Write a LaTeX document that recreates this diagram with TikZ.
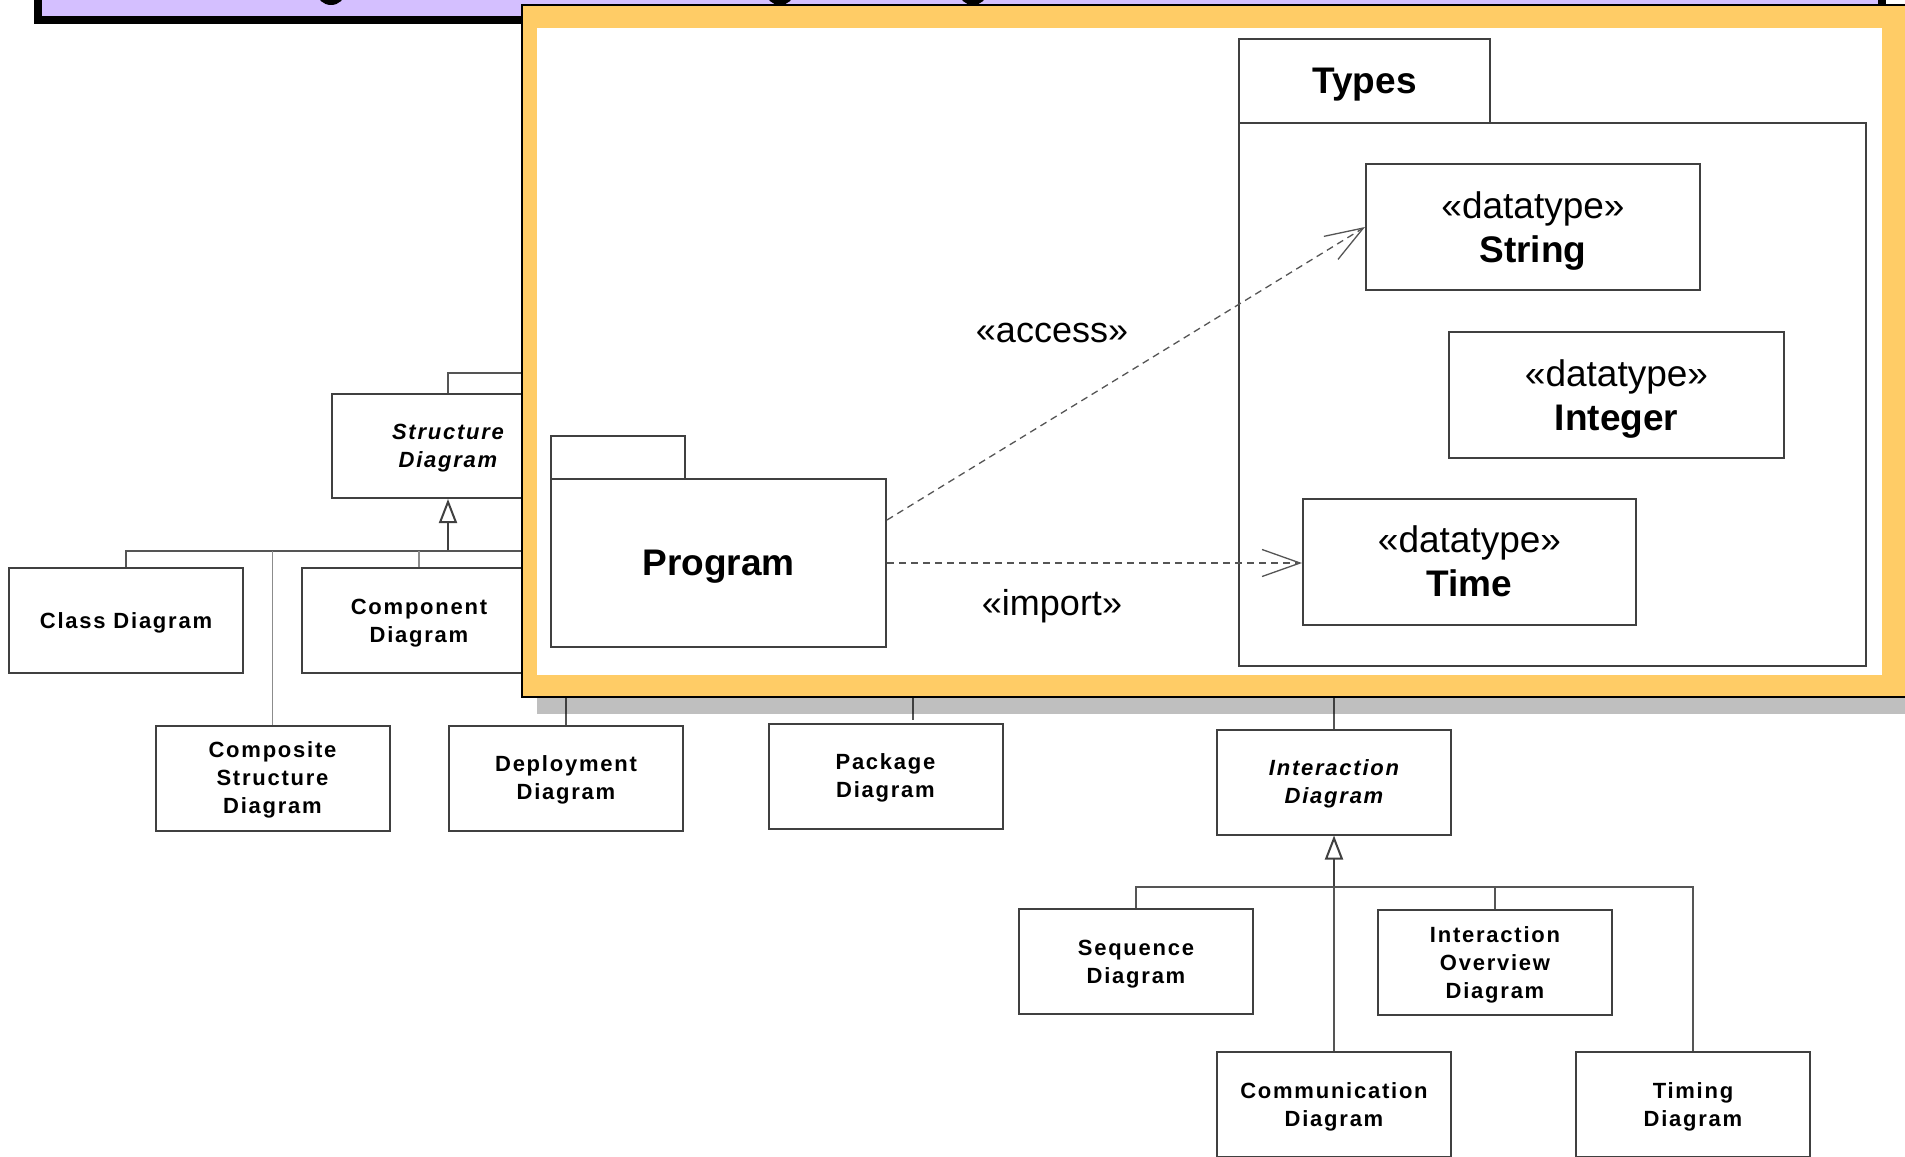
\documentclass[tikz,border=0pt]{standalone}
\usepackage{fontspec}
\setmainfont{Liberation Sans}
\newfontfamily\treefont{Liberation Sans}[LetterSpace=8]
\usetikzlibrary{arrows.meta,calc}
\definecolor{titlefill}{HTML}{D4BFFF}
\definecolor{popfill}{HTML}{FFCC66}
\definecolor{boxline}{HTML}{404040}
\definecolor{linkline}{HTML}{555555}
\definecolor{lightlink}{HTML}{8C8C8C}

\begin{document}
\begin{tikzpicture}[x=1pt,y=-1pt,
  treebox/.style={draw=boxline,line width=2pt,fill=white,minimum width=234pt,
    minimum height=105pt,inner sep=0pt,align=center,text depth=0pt,
    font=\treefont\bfseries\fontsize{22}{28}\selectfont},
  abstractbox/.style={treebox,font=\treefont\bfseries\itshape\fontsize{22}{28}\selectfont},
  link/.style={draw=linkline,line width=1.5pt},
  faint/.style={draw=lightlink,line width=1.5pt},
  gen/.style={draw=boxline,line width=2pt,-{Triangle[length=24pt,width=18pt,fill=white]}},
  pkgbox/.style={draw=boxline,line width=2pt,fill=white,inner sep=0pt},
  dtype/.style={pkgbox,align=center,text depth=0pt,font=\fontsize{37}{44}\selectfont},
  pkgname/.style={text depth=0pt,font=\bfseries\fontsize{37}{44}\selectfont},
  dep/.style={draw=linkline,line width=1.3pt,dash pattern=on 7pt off 5pt,
    -{Straight Barb[length=38pt,width=27pt]}},
  stereo/.style={font=\fontsize{36}{44}\selectfont}
]
\useasboundingbox (0,0) rectangle (1905,1156);

% title bar of the slide
\fill[black] (34,-30) rectangle (1886,24);
\fill[titlefill] (42,-30) rectangle (1878,16);
\fill[black] (331,-8) ellipse [x radius=14pt, y radius=13pt];
\fill[black] (780,-8) ellipse [x radius=14pt, y radius=13pt];
\fill[black] (973,-8) ellipse [x radius=14pt, y radius=13pt];

% structure branch of the diagram hierarchy
\node[abstractbox,minimum width=232pt,minimum height=104pt] (structure) at (448,446) {Structure\\Diagram};
\node[treebox] (classd) at (126,620.5) {Class Diagram};
\node[treebox] (component) at (419,620.5) {Component\\Diagram};
\node[treebox] (composite) at (272.5,778) {Composite\\Structure\\Diagram};
\node[treebox] (deployment) at (566,778) {Deployment\\Diagram};
\node[treebox] (packaged) at (885.5,776) {Package\\Diagram};

\coordinate (sj) at (448,551);
\coordinate (sright) at (640,551);
\coordinate (stop) at (640,373);
\coordinate (dtop) at (566,690);
\coordinate (ptop) at (913,690);

\draw[link] (structure.north) |- (stop);
\draw[gen] (sj) -- (structure.south);
\draw[link] (classd.north) -- (classd.north |- sj) -- (sright);
\draw[faint] (component.north) -- (component.north |- sj);
\draw[faint] (composite.north) -- (composite.north |- sj);
\draw[link] (dtop) -- (deployment.north);
\draw[link] (ptop) -- ([yshift=3pt]ptop |- packaged.north);

% behaviour branch: interactions
\node[abstractbox] (interaction) at (1334,782) {Interaction\\Diagram};
\node[treebox] (sequence) at (1136,961.5) {Sequence\\Diagram};
\node[treebox] (overview) at (1495,962.5) {Interaction\\Overview\\Diagram};
\node[treebox] (communication) at (1334,1104.5) {Communication\\Diagram};
\node[treebox] (timing) at (1693,1104.5) {Timing\\Diagram};

\coordinate (ij) at (1334,887);
\coordinate (itop) at (1334,690);

\draw[link] (itop) -- (interaction.north);
\draw[gen] (ij) -- (interaction.south);
\draw[link] (sequence.north) -- (sequence.north |- ij) -- (timing.north |- ij) -- (timing.north);
\draw[link] (overview.north) -- (overview.north |- ij);
\draw[link] (ij) -- (communication.north);

% drop shadow and frame of the close-up panel
\fill[black,opacity=0.25] (537,20) rectangle (1930,714);
\fill[black] (521,4) rectangle (1930,698);
\fill[popfill] (523,6) rectangle (1930,696);
\fill[white] (537,28) rectangle (1882,675);

% package Types with its data types
\node[pkgbox,pkgname,minimum width=251pt,minimum height=84pt] (typestab) at (1364.5,81) {Types};
\node[pkgbox,minimum width=627pt,minimum height=543pt] (typesbody) at (1552.5,394.5) {};
\node[dtype,minimum width=334pt,minimum height=126pt] (stringt) at (1533,227) {«datatype»\\\textbf{String}};
\node[dtype,minimum width=335pt,minimum height=126pt] (integert) at (1616.5,395) {«datatype»\\\textbf{Integer}};
\node[dtype,minimum width=333pt,minimum height=126pt] (timet) at (1469.5,561.5) {«datatype»\\\textbf{Time}};

% package Program
\node[pkgbox,minimum width=134pt,minimum height=43pt] (progtab) at (618,457.5) {};
\node[pkgbox,pkgname,minimum width=335pt,minimum height=168pt] (progbody) at (718.5,563) {Program};

% dependencies
\draw[dep] ([yshift=43pt]progbody.east) -- (stringt.west);
\draw[dep] (progbody.east) -- (progbody.east -| timet.west);
\node[stereo] (acclabel) at (1052,333) {«access»};
\node[stereo] (implabel) at (1052,606.5) {«import»};
\end{tikzpicture}
\end{document}
